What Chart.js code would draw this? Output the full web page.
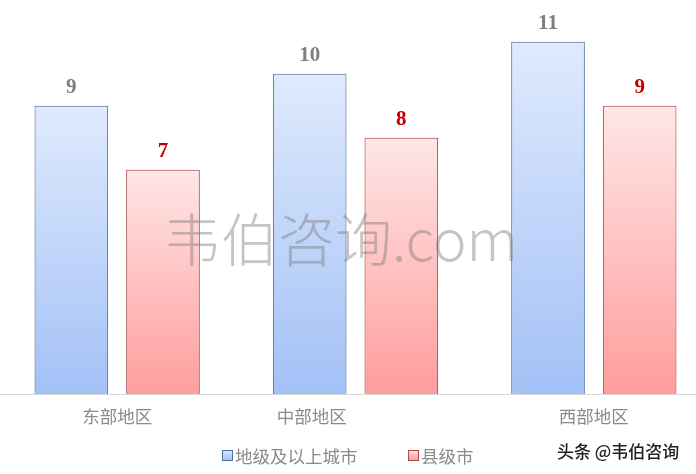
<!DOCTYPE html>
<html lang="zh-CN">
<head>
<meta charset="UTF-8">
<title>地级及以上城市与县级市</title>
<script src="https://cdn.jsdelivr.net/npm/chart.js@4/dist/chart.umd.min.js"></script>
<style>
  html, body { margin: 0; padding: 0; background: #fff; overflow: hidden; }
  .wrapper { position: relative; width: 715px; height: 474px; margin-left: -2px; }
</style>
</head>
<body>
<div class="wrapper">
  <canvas id="myChart" width="715" height="474"></canvas>
</div>
<script>
// data
var regions = ['东部地区', '中部地区', '西部地区'];
var seriesNames = ['地级及以上城市', '县级市'];
var cityValues = [9, 10, 11];
var countyValues = [7, 8, 9];

var blueTop = '#dfeafd', blueBottom = '#a3c1f6', blueLine = '#4f72a6';
var redTop = '#ffe6e6', redBottom = '#ff9d9d', redLine = '#b24a4a';
var labelFont = '"Noto Sans CJK SC"';

// per-bar vertical gradient
function barGradient(top, bottom) {
  return function (context) {
    var chart = context.chart;
    var y = chart.scales.y;
    if (!y || !chart.chartArea || context.parsed === undefined) return top;
    var yTop = y.getPixelForValue(context.parsed.y);
    var yBottom = y.getPixelForValue(0);
    var g = chart.ctx.createLinearGradient(0, yTop, 0, yBottom);
    g.addColorStop(0, top);
    g.addColorStop(1, bottom);
    return g;
  };
}

// soft shadow behind the bars
var shadowPlugin = {
  id: 'barShadow',
  beforeDatasetsDraw: function (chart) {
    var ctx = chart.ctx;
    ctx.save();
    ctx.shadowColor = 'rgba(0,0,0,0.22)';
    ctx.shadowBlur = 5;
  },
  afterDatasetsDraw: function (chart) {
    chart.ctx.restore();
  }
};

// value labels, watermark, legend and footer text
var labelPlugin = {
  id: 'valueLabels',
  afterDatasetsDraw: function (chart) {
    var ctx = chart.ctx;
    ctx.save();
    ctx.textAlign = 'center';
    ctx.textBaseline = 'middle';
    chart.data.datasets.forEach(function (ds, i) {
      var meta = chart.getDatasetMeta(i);
      ctx.fillStyle = i === 0 ? '#7f7f7f' : '#c00000';
      ctx.font = 'bold 21px "Liberation Serif"';
      meta.data.forEach(function (bar, j) {
        ctx.fillText(ds.data[j], bar.x, bar.y - 18);
      });
    });
    // watermark
    ctx.textAlign = 'left';
    ctx.fillStyle = 'rgba(125,125,125,0.45)';
    ctx.font = '300 57px ' + labelFont;
    ctx.fillText('韦伯咨询.com', 166, 239);
    ctx.restore();
  },
  afterDraw: function (chart) {
    var ctx = chart.ctx;
    ctx.save();
    // legend
    var items = [
      { x: 224, top: blueTop, bottom: blueBottom, line: blueLine },
      { x: 410, top: redTop, bottom: redBottom, line: redLine }
    ];
    ctx.font = '17.5px ' + labelFont;
    ctx.textBaseline = 'middle';
    items.forEach(function (it, i) {
      var g = ctx.createLinearGradient(0, 450, 0, 460);
      g.addColorStop(0, it.top);
      g.addColorStop(1, it.bottom);
      ctx.fillStyle = g;
      ctx.fillRect(it.x + 0.5, 450.5, 10, 10);
      ctx.strokeStyle = it.line;
      ctx.lineWidth = 1;
      ctx.strokeRect(it.x + 0.5, 450.5, 10, 10);
      ctx.fillStyle = '#8a8a8a';
      ctx.fillText(seriesNames[i], it.x + 13, 456);
    });
    // footer
    ctx.fillStyle = '#222';
    ctx.font = '500 17px ' + labelFont;
    ctx.fillText('头条 @韦伯咨询', 559, 452);
    ctx.restore();
  }
};

var ctx = document.getElementById('myChart').getContext('2d');
var chart = new Chart(ctx, {
  type: 'bar',
  data: {
    labels: regions,
    datasets: [
      {
        label: seriesNames[0],
        data: cityValues,
        backgroundColor: barGradient(blueTop, blueBottom),
        borderColor: blueLine,
        borderWidth: 1
      },
      {
        label: seriesNames[1],
        data: countyValues,
        backgroundColor: barGradient(redTop, redBottom),
        borderColor: redLine,
        borderWidth: 1
      }
    ]
  },
  options: {
    responsive: false,
    animation: false,
    devicePixelRatio: 1,
    layout: { padding: { top: 0, left: 0, right: 0, bottom: 35 } },
    datasets: {
      bar: { categoryPercentage: 0.769, barPercentage: 0.803 }
    },
    scales: {
      x: {
        grid: { display: false, drawTicks: false },
        border: { display: true, color: '#d9d9d9', width: 1 },
        ticks: {
          color: '#8a8a8a',
          font: { family: labelFont, size: 17.5 },
          padding: 12,
          maxRotation: 0,
          autoSkip: false,
          // the middle label sits left of its group in the original
          callback: function (v, i) {
            return i === 1 ? regions[i] + '\u3000\u3000\u3000\u3000\u3000' : regions[i];
          }
        }
      },
      y: {
        display: false,
        min: 0,
        max: 12.3
      }
    },
    plugins: {
      tooltip: { enabled: false },
      legend: { display: false }
    }
  },
  plugins: [shadowPlugin, labelPlugin]
});
</script>
</body>
</html>
